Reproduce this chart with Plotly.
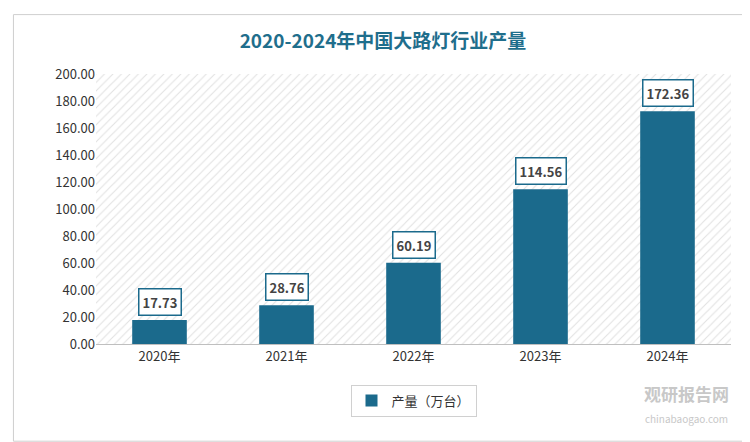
import plotly.graph_objects as go

years = ["2020年", "2021年", "2022年", "2023年", "2024年"]
output = [17.73, 28.76, 60.19, 114.56, 172.36]
y_ticks = [0, 20, 40, 60, 80, 100, 120, 140, 160, 180, 200]

bar_color = "#1b6a8c"
font = "Noto Sans CJK SC"

fig = go.Figure()

# hatched plot background, drawn as a single wide bar on the hidden primary axis
fig.add_trace(go.Bar(
    x=[2], y=[200], width=5, showlegend=False, hoverinfo="skip",
    marker=dict(color="white", line=dict(width=0),
                pattern=dict(shape="/", fgcolor="#c4c4c4", size=6, solidity=0.18)),
))

fig.add_trace(go.Bar(
    x=years, y=output, name="产量（万台）", width=0.43, xaxis="x2",
    marker=dict(color=bar_color, line=dict(width=0)),
))

for yr, v in zip(years, output):
    fig.add_annotation(
        x=yr, y=v, xref="x2", yref="y", text="<b>%.2f</b>" % v, showarrow=False,
        yshift=18, font=dict(size=13, color="#444", family=font),
        bordercolor=bar_color, borderwidth=1.5, borderpad=3, bgcolor="white",
    )

fig.add_annotation(
    xref="paper", yref="paper", x=1.0, y=-0.13, yanchor="top", showarrow=False,
    text="<b>观研报告网</b><br><span style='font-size:10px'>chinabaogao.com</span>",
    font=dict(size=17, color="#c8c8c8", family=font), align="center",
)

fig.update_layout(
    width=750, height=442,
    paper_bgcolor="white", plot_bgcolor="white",
    margin=dict(l=88, r=27, t=66, b=106),
    title=dict(text="<b>2020-2024年中国大路灯行业产量</b>", x=0.5, y=0.94,
               xanchor="center", font=dict(size=19, color="#1f6e8c", family=font)),
    font=dict(family=font, size=13, color="#333"),
    barmode="overlay",
    xaxis=dict(range=[-0.5, 4.5], visible=False),
    xaxis2=dict(overlaying="x", showline=True, linecolor="#bfbfbf", ticks="",
                tickfont=dict(size=13), range=[-0.5, 4.5]),
    yaxis=dict(range=[0, 200], tickvals=y_ticks, tickformat=".2f", showgrid=False,
               zeroline=False, tickfont=dict(size=13)),
    legend=dict(orientation="h", x=0.5, xanchor="center", y=-0.15, yanchor="top",
                bordercolor="#d0d0d0", borderwidth=1, font=dict(size=13),
                itemwidth=30),
    shapes=[dict(type="rect", xref="paper", yref="paper", x0=-0.13, x1=1.03,
                 y0=-0.36, y1=1.22, line=dict(color="#cfcfcf", width=1))],
)

fig.write_html("out.html")
